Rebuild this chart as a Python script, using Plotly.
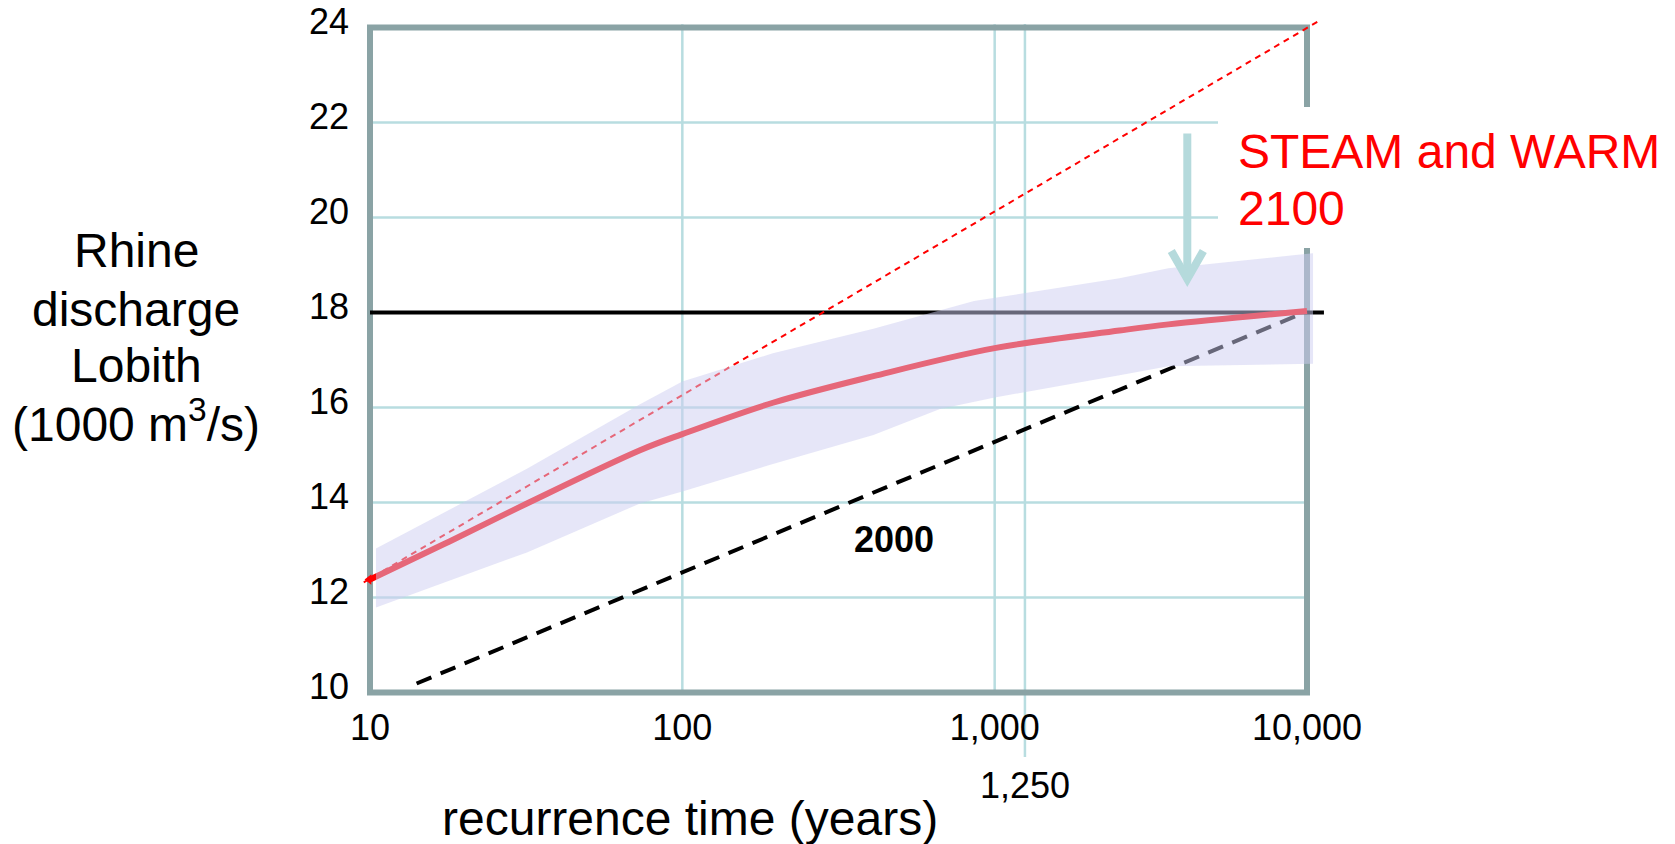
import plotly.graph_objects as go

# ---------------- data ----------------
# 2100 (STEAM and WARM) central estimate
T_2100 = [10, 17.2, 31.8, 73.2, 100, 195, 409, 1000, 2510, 3600, 10000]
Q_2100 = [12.38, 13.12, 13.98, 15.10, 15.44, 16.1, 16.66, 17.25, 17.62, 17.75, 18.03]

# uncertainty band
T_band_upper = [10.45, 31.8, 73.2, 100, 195, 409, 859, 2510, 3600, 10455]
Q_band_upper = [13.03, 14.71, 16.07, 16.55, 17.14, 17.66, 18.24, 18.72, 18.93, 19.25]
T_band_lower = [10.45, 31.8, 73.2, 100, 195, 409, 668, 1000, 2510, 3600, 10455]
Q_band_lower = [11.79, 12.95, 13.98, 14.23, 14.81, 15.42, 15.97, 16.21, 16.68, 16.87, 16.92]

# 2000 situation (black dashed)
T_2000 = [14.1, 9800]
Q_2000 = [10.19, 18.0]

# straight extrapolation (thin red dashed)
T_extrap = [9.55, 10800]
Q_extrap = [12.32, 24.12]

# design discharge 18 000 m3/s
T_limit = [10, 11330]
Q_limit = [18, 18]

# start marker
T_mark = [9.93]
Q_mark = [12.38]

# axes
y_ticks = [10, 12, 14, 16, 18, 20, 22, 24]
x_ticks = [10, 100, 1000, 10000]
x_ticktext = ["10", "100", "1,000", "10,000"]
extra_x_tick = 1250
extra_x_text = "1,250"
grid_y = [12, 14, 16, 18, 20, 22]
grid_x = [100, 1000]
x_min, x_max = 10, 10000
y_min, y_max = 10, 24

# ---------------- geometry ----------------
FW, FH = 1675, 844
L, R = 363, 1325          # plot area left/right in px
TOP, BOT = 20, 700        # plot area top/bottom in px
PW, PH = R - L, BOT - TOP
fx0, fx1 = 370, 1307      # frame left/right (px)
fy_top, fy_bot = 27.5, 692.5
ppx = (fx1 - fx0) / 3.0
ppy = (fy_bot - fy_top) / (y_max - y_min)
x_range = [1 - (fx0 - L) / ppx, 4 + (R - fx1) / ppx]
y_range = [y_min - (BOT - fy_bot) / ppy, y_max + (fy_top - TOP) / ppy]


def px2x(p):
    return (p - L) / PW


def py2y(p):
    return (BOT - p) / PH


FONT = "Liberation Sans, Arial, sans-serif"
GRID = "#b8dde0"
FRAME = "#8aa3a5"
ARROW = "#b5dadc"

fig = go.Figure()

fig.add_trace(go.Scatter(x=T_limit, y=Q_limit, mode="lines",
                         line=dict(color="black", width=4), hoverinfo="skip"))
fig.add_trace(go.Scatter(x=T_2000, y=Q_2000, mode="lines",
                         line=dict(color="black", width=4, dash="16px,10px"), hoverinfo="skip"))
fig.add_trace(go.Scatter(x=T_extrap, y=Q_extrap, mode="lines",
                         line=dict(color="red", width=2, dash="6px,5px"), hoverinfo="skip"))
fig.add_trace(go.Scatter(x=T_2100, y=Q_2100, mode="lines", line_shape="spline",
                         line=dict(color="red", width=6), hoverinfo="skip"))
fig.add_trace(go.Scatter(x=T_band_upper + T_band_lower[::-1],
                         y=Q_band_upper + Q_band_lower[::-1],
                         mode="lines", fill="toself",
                         fillcolor="rgba(205,205,241,0.5)",
                         line=dict(width=0), hoverinfo="skip"))
fig.add_trace(go.Scatter(x=T_mark, y=Q_mark, mode="markers",
                         marker=dict(symbol="triangle-left", size=9, color="red"),
                         hoverinfo="skip"))

shapes = []
for g in grid_y:
    shapes.append(dict(type="line", xref="x", yref="y", x0=x_min, x1=x_max, y0=g, y1=g,
                       line=dict(color=GRID, width=2.5), layer="below"))
for g in grid_x:
    shapes.append(dict(type="line", xref="x", yref="y", x0=g, x1=g, y0=y_min, y1=y_max + 0.07,
                       line=dict(color=GRID, width=2.5), layer="below"))
# 1,250 line reaching down to its label
shapes.append(dict(type="line", xref="x", yref="paper", x0=extra_x_tick, x1=extra_x_tick,
                   y0=py2y(757), y1=py2y(24),
                   line=dict(color=GRID, width=2.5), layer="below"))
# frame
shapes.append(dict(type="rect", xref="x", yref="y", x0=x_min, x1=x_max, y0=y_min, y1=y_max,
                   line=dict(color=FRAME, width=6), fillcolor="rgba(0,0,0,0)", layer="below"))
# white text box behind the scenario label
shapes.append(dict(type="rect", xref="paper", yref="paper",
                   x0=px2x(1218), x1=px2x(1672), y0=py2y(248), y1=py2y(107),
                   line=dict(width=0), fillcolor="white", layer="above"))
# arrow
ax_ = 1187.3
shapes.append(dict(type="path", xref="paper", yref="paper",
                   path=f"M{px2x(ax_)},{py2y(133.5)} L{px2x(ax_)},{py2y(277)}",
                   line=dict(color=ARROW, width=8), layer="above"))
shapes.append(dict(type="path", xref="paper", yref="paper",
                   path=(f"M{px2x(ax_ - 16)},{py2y(251)} L{px2x(ax_)},{py2y(279)} "
                         f"L{px2x(ax_ + 16)},{py2y(251)}"),
                   line=dict(color=ARROW, width=8), layer="above"))

ytitle_lines = ["Rhine", "discharge", "Lobith", "(1000 m<sup>3</sup>/s)"]
ytitle_y = [250, 309, 365, 421]

annotations = []
for txt, yy in zip(ytitle_lines, ytitle_y):
    annotations.append(dict(text=txt, xref="paper", yref="paper", x=px2x(136), y=py2y(yy),
                            xanchor="center", yanchor="middle", showarrow=False,
                            font=dict(family=FONT, size=48, color="black")))
annotations += [
    dict(text="recurrence time (years)", xref="paper", yref="paper",
         x=px2x(690), y=py2y(818), xanchor="center", yanchor="middle", showarrow=False,
         font=dict(family=FONT, size=48, color="black")),
    dict(text=extra_x_text, xref="x", yref="paper", x=3.0969, y=py2y(785),
         xanchor="center", yanchor="middle", showarrow=False,
         font=dict(family=FONT, size=36, color="black")),
    dict(text="<b>2000</b>", xref="paper", yref="paper",
         x=px2x(894), y=py2y(539), xanchor="center", yanchor="middle", showarrow=False,
         font=dict(family=FONT, size=36, color="black")),
    dict(text="STEAM and WARM", xref="paper", yref="paper",
         x=px2x(1236), y=py2y(151), xanchor="left", yanchor="middle", showarrow=False,
         font=dict(family=FONT, size=48, color="red")),
    dict(text="2100", xref="paper", yref="paper",
         x=px2x(1236), y=py2y(208), xanchor="left", yanchor="middle", showarrow=False,
         font=dict(family=FONT, size=48, color="red")),
]

fig.update_layout(
    width=FW, height=FH,
    margin=dict(l=L, r=FW - R, t=TOP, b=FH - BOT, pad=0),
    paper_bgcolor="white", plot_bgcolor="white",
    showlegend=False,
    shapes=shapes, annotations=annotations,
    font=dict(family=FONT, color="black"),
)
fig.update_xaxes(type="log", range=x_range, tickvals=x_ticks, ticktext=x_ticktext,
                 tickangle=0, showgrid=False, zeroline=False, showline=False, ticks="",
                 tickfont=dict(family=FONT, size=36, color="black"),
                 ticklabelstandoff=3, automargin=False)
fig.update_yaxes(range=y_range, tickvals=y_ticks, showgrid=False, zeroline=False,
                 showline=False, ticks="",
                 tickfont=dict(family=FONT, size=36, color="black"),
                 ticklabelstandoff=13, ticklabelshift=-6, automargin=False)

fig.write_html("out.html")
